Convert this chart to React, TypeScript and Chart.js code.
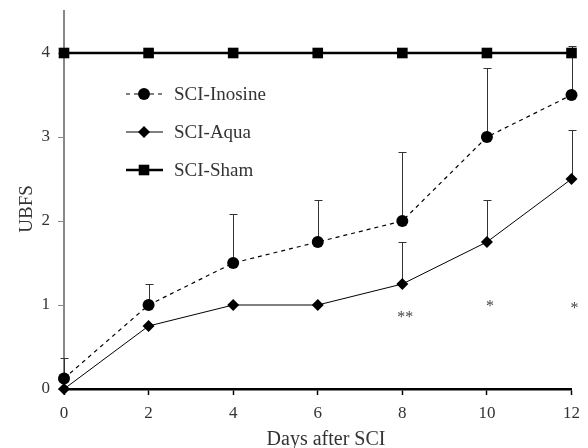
import React, { useEffect, useRef } from "react";
import { Chart, registerables } from "chart.js";

Chart.register(...registerables);

const days = [0, 2, 4, 6, 8, 10, 12];
const inosine = [0.125, 1, 1.5, 1.75, 2, 3, 3.5];
const inosineErr = [0.24, 0.25, 0.58, 0.5, 0.82, 0.82, 0.58];
const aqua = [0, 0.75, 1, 1, 1.25, 1.75, 2.5];
const aquaErr = [0, 0, 0, 0, 0.5, 0.5, 0.58];
const sham = [4, 4, 4, 4, 4, 4, 4];
const sigMarks = ["", "", "", "", "**", "*", "*"];
const sigLevel = [0, 0, 0, 0, 0.9, 1.03, 1.0];
const yTicks = [0, 1, 2, 3, 4];
const seriesNames = ["SCI-Inosine", "SCI-Aqua", "SCI-Sham"];
const xTitle = "Days after SCI";
const yTitle = "UBFS";

const FONT = "'Liberation Serif', 'Times New Roman', serif";

const toPts = (ys: number[]) => days.map((d, i) => ({ x: d, y: ys[i] }));

export default function App() {
  const ref = useRef<HTMLCanvasElement | null>(null);

  useEffect(() => {
    const canvas = ref.current;
    if (!canvas) return;

    const errorBars = {
      id: "errorBars",
      beforeDatasetsDraw(chart: any) {
        const { ctx } = chart;
        const xs = chart.scales.x;
        const ys = chart.scales.y;
        const errs = [inosineErr, aquaErr];
        const vals = [inosine, aqua];
        ctx.save();
        ctx.strokeStyle = "#333";
        ctx.lineWidth = 1;
        errs.forEach((err, s) => {
          days.forEach((d, i) => {
            if (!err[i]) return;
            const px = Math.round(xs.getPixelForValue(d)) + 0.5;
            const y0 = ys.getPixelForValue(vals[s][i]);
            const y1 = Math.round(ys.getPixelForValue(vals[s][i] + err[i])) + 0.5;
            ctx.beginPath();
            ctx.moveTo(px, y0);
            ctx.lineTo(px, y1);
            ctx.moveTo(px - 4, y1);
            ctx.lineTo(px + 4, y1);
            ctx.stroke();
          });
        });
        ctx.restore();
      },
      afterDraw(chart: any) {
        const { ctx } = chart;
        const xs = chart.scales.x;
        const ys = chart.scales.y;
        ctx.save();
        // significance marks
        ctx.fillStyle = "#444";
        ctx.font = `16px ${FONT}`;
        ctx.textAlign = "center";
        ctx.textBaseline = "middle";
        days.forEach((d, i) => {
          if (!sigMarks[i]) return;
          ctx.fillText(sigMarks[i], xs.getPixelForValue(d) + 3, ys.getPixelForValue(sigLevel[i]) + 4);
        });
        // axis titles
        ctx.fillStyle = "#333";
        ctx.font = `20px ${FONT}`;
        ctx.textAlign = "center";
        ctx.textBaseline = "alphabetic";
        ctx.fillText(xTitle, 326, 445);
        ctx.save();
        ctx.translate(32, 209);
        ctx.rotate(-Math.PI / 2);
        ctx.font = `19px ${FONT}`;
        ctx.fillText(yTitle, 0, 0);
        ctx.restore();
        // legend
        const rows = [94, 132, 170];
        const styles = [
          { dash: [4, 4], width: 1.2, point: "circle", r: 6 },
          { dash: [], width: 1, point: "rectRot", r: 6 },
          { dash: [], width: 2.5, point: "rect", r: 7.5 },
        ];
        rows.forEach((y, i) => {
          const st = styles[i];
          ctx.strokeStyle = "#000";
          ctx.lineWidth = st.width;
          ctx.setLineDash(st.dash);
          ctx.beginPath();
          ctx.moveTo(126, y);
          ctx.lineTo(163, y);
          ctx.stroke();
          ctx.setLineDash([]);
          ctx.fillStyle = "#000";
          const r = st.r;
          ctx.beginPath();
          if (st.point === "circle") {
            ctx.arc(144, y, r, 0, Math.PI * 2);
          } else if (st.point === "rectRot") {
            ctx.moveTo(144, y - r);
            ctx.lineTo(144 + r, y);
            ctx.lineTo(144, y + r);
            ctx.lineTo(144 - r, y);
            ctx.closePath();
          } else {
            const s = r * Math.SQRT1_2;
            ctx.rect(144 - s, y - s, 2 * s, 2 * s);
          }
          ctx.fill();
          ctx.fillStyle = "#333";
          ctx.font = `19px ${FONT}`;
          ctx.textAlign = "left";
          ctx.textBaseline = "middle";
          ctx.fillText(seriesNames[i], 174, y + 1);
        });
        ctx.restore();
      },
    };

    const chart = new Chart(canvas, {
      type: "line",
      data: {
        datasets: [
          {
            label: seriesNames[0],
            data: toPts(inosine),
            borderColor: "#000",
            backgroundColor: "#000",
            borderWidth: 1.2,
            borderDash: [4, 4],
            pointStyle: "circle",
            pointRadius: 6,
            pointBorderWidth: 0,
            clip: false,
          },
          {
            label: seriesNames[1],
            data: toPts(aqua),
            borderColor: "#000",
            backgroundColor: "#000",
            borderWidth: 1,
            pointStyle: "rectRot",
            pointRadius: 6,
            pointBorderWidth: 0,
            clip: false,
          },
          {
            label: seriesNames[2],
            data: toPts(sham),
            borderColor: "#000",
            backgroundColor: "#000",
            borderWidth: 2.5,
            pointStyle: "rect",
            pointRadius: 7.5,
            pointBorderWidth: 0,
            clip: false,
          },
        ],
      },
      options: {
        responsive: false,
        animation: false,
        layout: { padding: { top: 11, right: 15, left: 0, bottom: 0 } },
        plugins: { legend: { display: false }, tooltip: { enabled: false } },
        scales: {
          x: {
            type: "linear",
            min: 0,
            max: 12,
            afterFit: (s: any) => {
              s.height = 59;
            },
            ticks: {
              stepSize: 2,
              color: "#333",
              font: { family: FONT, size: 17 },
              padding: 8,
              maxRotation: 0,
            },
            grid: {
              drawOnChartArea: false,
              drawTicks: true,
              tickLength: 6,
              color: "#000",
              tickWidth: 1.5,
            },
            border: { color: "#000", width: 2.5 },
          },
          y: {
            min: 0,
            max: 4.5,
            afterFit: (s: any) => {
              s.width = 64;
              s.paddingTop = 0;
              s.paddingBottom = 0;
            },
            afterBuildTicks: (s: any) => {
              s.ticks = yTicks.map((v) => ({ value: v }));
            },
            ticks: {
              stepSize: 1,
              color: "#333",
              font: { family: FONT, size: 17 },
              padding: 8,
            },
            grid: {
              drawOnChartArea: false,
              drawTicks: true,
              tickLength: 6,
              color: "#888",
              tickWidth: 1,
            },
            border: { color: "#888", width: 2 },
          },
        },
      },
      plugins: [errorBars],
    });

    return () => chart.destroy();
  }, []);

  return (
    <div style={{ position: "fixed", left: 0, top: 0, width: 588, height: 448, background: "#fff" }}>
      <canvas ref={ref} width={588} height={448} style={{ width: 588, height: 448 }} />
    </div>
  );
}
